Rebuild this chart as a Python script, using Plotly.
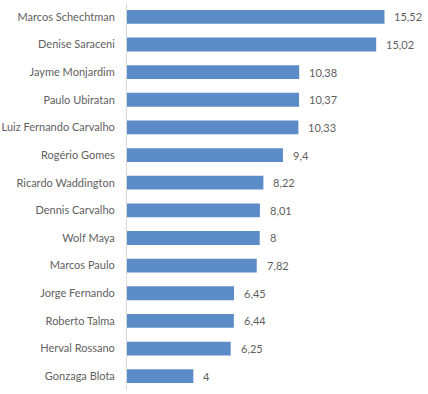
import plotly.graph_objects as go

directors = ["Marcos Schechtman", "Denise Saraceni", "Jayme Monjardim", "Paulo Ubiratan",
             "Luiz Fernando Carvalho", "Rogério Gomes", "Ricardo Waddington", "Dennis Carvalho",
             "Wolf Maya", "Marcos Paulo", "Jorge Fernando", "Roberto Talma", "Herval Rossano",
             "Gonzaga Blota"]
values = [15.52, 15.02, 10.38, 10.37, 10.33, 9.4, 8.22, 8.01, 8, 7.82, 6.45, 6.44, 6.25, 4]
value_labels = ["15,52", "15,02", "10,38", "10,37", "10,33", "9,4", "8,22", "8,01", "8",
                "7,82", "6,45", "6,44", "6,25", "4"]

FONT = "Lato"
GRAY = "#5f5f5f"

fig = go.Figure(go.Bar(
    x=values, y=directors, orientation="h",
    marker=dict(color="#5B8CC7", line=dict(width=0)),
    width=0.5,
    hoverinfo="skip",
))

for d, v, lab in zip(directors, values, value_labels):
    fig.add_annotation(x=v, y=d, text=lab, showarrow=False, xanchor="left",
                       xshift=8, font=dict(family=FONT, size=11, color=GRAY))

fig.update_layout(
    width=428, height=394,
    margin=dict(l=127, r=8, t=3, b=4, autoexpand=False),
    paper_bgcolor="white", plot_bgcolor="white",
    showlegend=False,
    font=dict(family=FONT, size=11, color=GRAY),
    xaxis=dict(range=[0, 17.66], visible=False, fixedrange=True, automargin=False),
    yaxis=dict(autorange="reversed", showline=True, linecolor="#d9d9d9", linewidth=1,
               showgrid=False, ticks="", ticklabelstandoff=9, zeroline=False,
               automargin=False,
               tickfont=dict(family=FONT, size=11, color=GRAY)),
)

fig.write_html("out.html", config={"displayModeBar": False},
               post_script="document.body.style.margin='0';document.body.style.overflow='hidden';")
